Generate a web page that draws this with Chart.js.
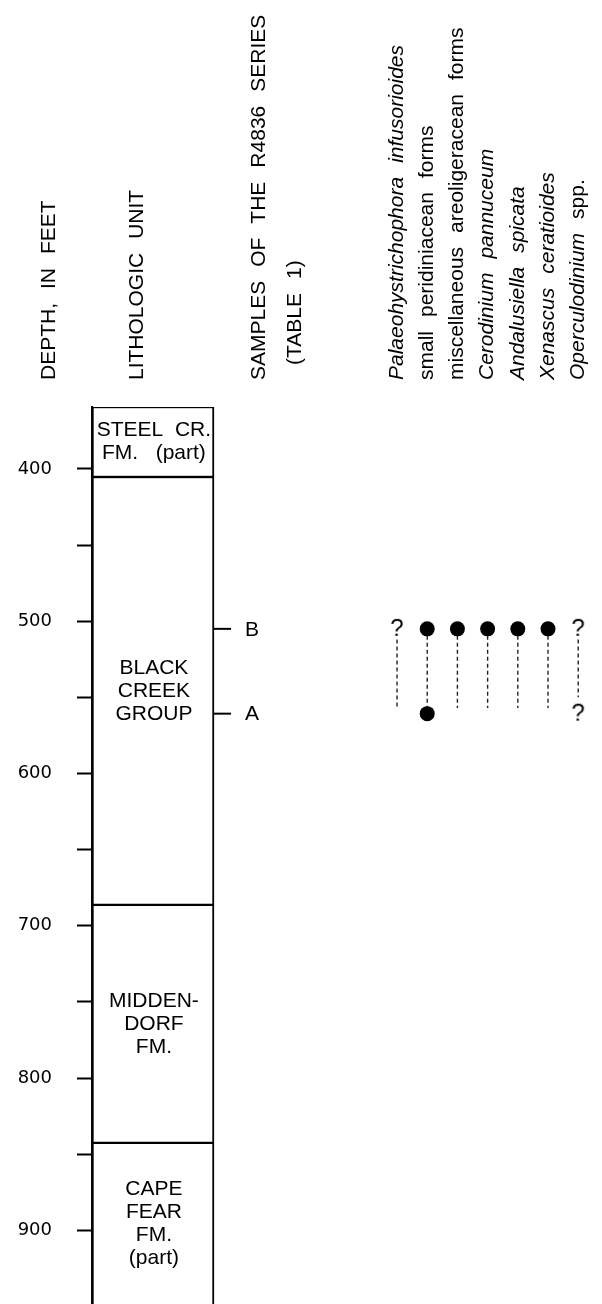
<!DOCTYPE html>
<html>
<head>
<meta charset="utf-8">
<script src="https://cdn.jsdelivr.net/npm/chart.js@4.4.0/dist/chart.umd.min.js"></script>
<style>
  html, body { margin: 0; padding: 0; background: #fff; }
  canvas { display: block; }
</style>
</head>
<body>
<canvas id="log" width="602" height="1304"></canvas>
<script>
// depth axis, in feet
const depthMin = 359.3;
const depthMax = 948.4;
const depthTicks = [400, 450, 500, 550, 600, 650, 700, 750, 800, 850, 900];

// column headers
const headerNames = [['DEPTH, IN FEET'], ['LITHOLOGIC UNIT'], ['SAMPLES OF THE R4836 SERIES', '(TABLE 1)']];

// lithologic units
const unitNames = [['STEEL  CR.', 'FM.   (part)'], ['BLACK', 'CREEK', 'GROUP'], ['MIDDEN-', 'DORF', 'FM.'], ['CAPE', 'FEAR', 'FM.', '(part)']];
const unitTops = [359.3, 405.3, 686.3, 842.6];
const unitBases = [405.3, 686.3, 842.6, 960];

// samples
const sampleNames = ['B', 'A'];
const sampleDepths = [505, 560.7];

// species
const speciesNames = [
  'Palaeohystrichophora infusorioides',
  'small peridiniacean forms',
  'miscellaneous areoligeracean forms',
  'Cerodinium pannuceum',
  'Andalusiella spicata',
  'Xenascus ceratioides',
  'Operculodinium spp.'
];
const speciesItalicWords = [2, 0, 0, 2, 2, 2, 1];
// 2 = present, 1 = questionable (?), 0 = not recorded
const occurrenceB = [1, 2, 2, 2, 2, 2, 1];
const occurrenceA = [0, 2, 0, 0, 0, 0, 1];
// dashed range lines
const rangeTops = [512, 505, 505, 505, 505, 505, 512];
const rangeBases = [557, 560.7, 557, 557, 557, 557, 550];

// layout on the x scale (1 unit ~ 30.5 px)
const X_MAX = 16.72;
const LITH_X = 2;
const LITH_LABEL_X = 2.03;
const SAMPLE_TICK_X = 4.28;
const SAMPLE_LABEL_X = 5.02;
const speciesX = i => 10 + i * 0.99;
const headerX = [[-1.39], [1.49], [5.49, 6.66]];
const headerIndent = [[0], [0], [0, 15]];

const FONT = '"Liberation Sans", Arial, sans-serif';

function questionMark() {
  const c = document.createElement('canvas');
  c.width = 18; c.height = 26;
  const g = c.getContext('2d');
  g.font = '24px ' + FONT;
  g.textAlign = 'center';
  g.textBaseline = 'middle';
  g.fillStyle = '#000';
  g.fillText('?', 9, 13);
  return c;
}

// rotated text, read from bottom to top, words spaced out
function drawUp(ctx, text, italicCount, x, yBase, gap) {
  ctx.save();
  ctx.translate(x, yBase);
  ctx.rotate(-Math.PI / 2);
  ctx.textBaseline = 'middle';
  ctx.textAlign = 'left';
  let pos = 0;
  text.split(' ').forEach((w, i) => {
    ctx.font = (i < italicCount ? 'italic ' : '') + '21px ' + FONT;
    ctx.fillText(w, pos, 0);
    pos += ctx.measureText(w).width + gap;
  });
  ctx.restore();
}

const labelsPlugin = {
  id: 'labels',
  afterDatasetsDraw(chart) {
    const {ctx, chartArea, scales: {x, y}} = chart;
    ctx.save();
    ctx.fillStyle = '#000';
    ctx.font = '21px ' + FONT;
    ctx.textBaseline = 'middle';

    // unit names in the column
    ctx.textAlign = 'center';
    unitNames.forEach((lines, i) => {
      const top = Math.max(y.getPixelForValue(unitTops[i]), chartArea.top);
      const bot = Math.min(y.getPixelForValue(unitBases[i]), chartArea.bottom);
      const mid = (top + bot) / 2;
      lines.forEach((t, k) => {
        ctx.fillText(t, x.getPixelForValue(LITH_LABEL_X), mid + (k - (lines.length - 1) / 2) * 23);
      });
    });

    // sample letters
    ctx.textAlign = 'left';
    sampleNames.forEach((s, i) => {
      ctx.fillText(s, x.getPixelForValue(SAMPLE_LABEL_X), y.getPixelForValue(sampleDepths[i]) + 1);
    });

    // headers
    const yBase = chartArea.top - 27;
    headerNames.forEach((lines, i) => {
      lines.forEach((t, k) => {
        drawUp(ctx, t, 0, x.getPixelForValue(headerX[i][k]), yBase - headerIndent[i][k], 14);
      });
    });
    speciesNames.forEach((t, i) => {
      drawUp(ctx, t, speciesItalicWords[i], x.getPixelForValue(speciesX(i)), yBase, 14);
    });
    ctx.restore();
  }
};

// build point data from the arrays
const dotData = [];
const queryData = [];
[occurrenceB, occurrenceA].forEach((occ, s) => {
  occ.forEach((v, i) => {
    const pt = {x: speciesX(i), y: sampleDepths[s]};
    if (v === 2) dotData.push(pt);
    else if (v === 1) queryData.push(pt);
  });
});
const rangeData = [];
speciesNames.forEach((n, i) => {
  rangeData.push({x: speciesX(i), y: rangeTops[i]}, {x: speciesX(i), y: rangeBases[i]}, {x: speciesX(i), y: null});
});

new Chart(document.getElementById('log'), {
  type: 'scatter',
  data: {
    datasets: [
      {
        type: 'bar',
        data: unitTops.map((t, i) => ({x: LITH_X, y: [t, unitBases[i]]})),
        backgroundColor: '#fff',
        borderColor: '#000',
        borderWidth: {left: 2, right: 2, top: 1.5, bottom: 1.5},
        borderSkipped: false,
        barThickness: 122,
        grouped: false,
        order: 5
      },
      {
        type: 'line',
        data: rangeData,
        borderColor: '#222',
        borderWidth: 1.4,
        borderDash: [4, 3],
        pointRadius: 0,
        spanGaps: false,
        order: 4
      },
      {
        data: sampleDepths.map(d => ({x: SAMPLE_TICK_X, y: d})),
        pointStyle: 'line',
        pointRadius: 8.5,
        pointBorderWidth: 2,
        pointBorderColor: '#000',
        order: 3
      },
      {
        data: dotData,
        pointStyle: 'circle',
        pointRadius: 7.5,
        pointBackgroundColor: '#000',
        pointBorderWidth: 0,
        order: 2
      },
      {
        data: queryData,
        pointStyle: questionMark(),
        pointRadius: 10,
        order: 1
      }
    ]
  },
  options: {
    responsive: false,
    animation: false,
    events: [],
    layout: {autoPadding: false, padding: {top: 407, left: 0, right: 0, bottom: 0}},
    plugins: {legend: {display: false}, tooltip: {enabled: false}},
    scales: {
      x: {type: 'linear', display: false, offset: false, min: 0, max: X_MAX},
      y: {
        type: 'linear',
        reverse: true,
        position: 'left',
        min: depthMin,
        max: depthMax,
        afterBuildTicks: s => { s.ticks = depthTicks.map(v => ({value: v})); },
        afterFit: s => { s.width = 92; s.paddingTop = 0; s.paddingBottom = 0; },
        ticks: {
          autoSkip: false,
          padding: 25,
          color: '#000',
          font: {family: 'DejaVu Sans', size: 18},
          callback: v => (v % 100 === 0 ? v : '')
        },
        grid: {drawOnChartArea: false, tickLength: 15, tickWidth: 2, tickColor: '#000'},
        border: {display: true, color: '#000', width: 2}
      }
    }
  },
  plugins: [labelsPlugin]
});
</script>
</body>
</html>
